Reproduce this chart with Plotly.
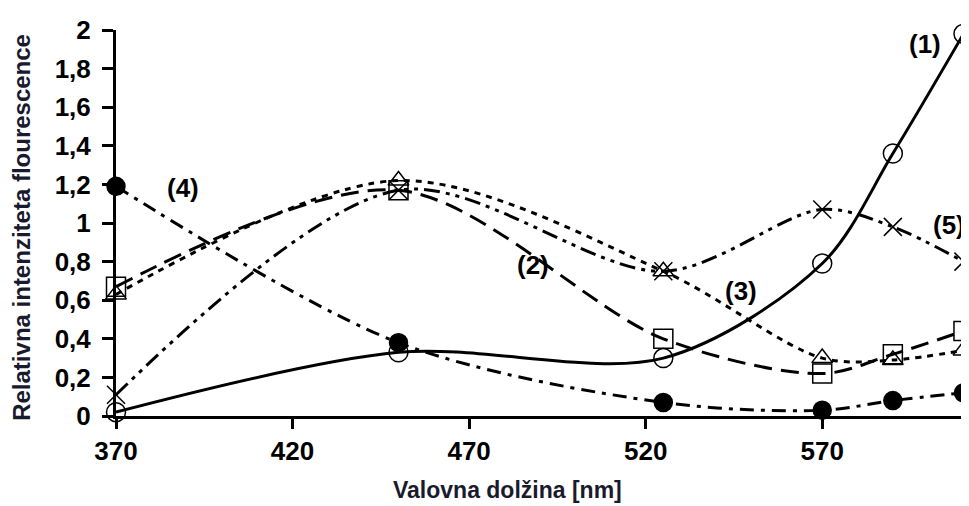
import plotly.graph_objects as go

wavelength = [370, 450, 525, 570, 590, 610]
s1 = [0.02, 0.33, 0.30, 0.79, 1.36, 1.98]
s2 = [0.67, 1.17, 0.40, 0.22, 0.32, 0.44]
s3 = [0.63, 1.22, 0.75, 0.30, 0.29, 0.34]
s4 = [1.19, 0.38, 0.07, 0.03, 0.08, 0.12]
s5 = [0.11, 1.17, 0.75, 1.07, 0.98, 0.80]

y_ticks = [0, 0.2, 0.4, 0.6, 0.8, 1, 1.2, 1.4, 1.6, 1.8, 2]
y_ticktext = ["0", "0,2", "0,4", "0,6", "0,8", "1", "1,2", "1,4", "1,6", "1,8", "2"]
x_ticks = [370, 420, 470, 520, 570]
x_ticktext = ["370", "420", "470", "520", "570"]

labels = ["(1)", "(2)", "(3)", "(4)", "(5)"]
label_x = [599, 488, 547, 389, 606]
label_y = [1.93, 0.78, 0.65, 1.18, 0.99]

x_title = "Valovna dolžina [nm]"
y_title = "Relativna intenziteta flourescence"

series = [
    (s1, "solid", "circle-open", 19, "black"),
    (s2, "18px,9px", "square-open", 19, "black"),
    (s3, "6px,6px", "triangle-up-open", 18, "black"),
    (s4, "14px,7px,4px,7px", "circle", 18, "black"),
    (s5, "16px,6px,4px,6px,4px,6px", "x-thin-open", 18, "black"),
]

FONT = "Liberation Sans"

fig = go.Figure()
for ys, dash, sym, size, col in series:
    fig.add_trace(go.Scatter(
        x=wavelength, y=ys, mode="lines+markers",
        line=dict(color="black", width=3, dash=dash, shape="spline", smoothing=0.9),
        marker=dict(symbol=sym, size=size, color=col,
                    line=dict(color="black", width=1.5)),
        cliponaxis=False, showlegend=False,
    ))

for t, lx, ly in zip(labels, label_x, label_y):
    fig.add_annotation(x=lx, y=ly, text=t, showarrow=False,
                       font=dict(family=FONT, size=26, color="black", weight="bold"))

# axis titles
fig.add_annotation(xref="paper", yref="paper", x=0.4606, y=-0.192, text=x_title,
                   showarrow=False, xanchor="center", yanchor="middle",
                   font=dict(family=FONT, size=23, weight="bold", color="#1a1a2e"))
fig.add_annotation(xref="paper", yref="paper", x=-0.1105, y=0.49, text=y_title,
                   showarrow=False, textangle=-90, xanchor="center", yanchor="middle",
                   font=dict(family=FONT, size=24, weight="bold", color="#1a1a2e"))

fig.update_layout(
    width=961, height=498,
    margin=dict(l=108, r=2, t=22, b=90),
    plot_bgcolor="white", paper_bgcolor="white",
    font=dict(family=FONT, color="black"),
)
fig.update_xaxes(
    range=[370, 611], tickvals=x_ticks, ticktext=x_ticktext, automargin=False,
    showgrid=False, zeroline=False, showline=True, linecolor="black", linewidth=3,
    ticks="outside", ticklen=10, tickwidth=3, tickcolor="black",
    tickfont=dict(family=FONT, size=26, weight="bold"),
)
fig.update_yaxes(
    range=[0, 2], tickvals=y_ticks, ticktext=y_ticktext, automargin=False,
    showgrid=False, zeroline=False, showline=True, linecolor="black", linewidth=3,
    ticks="outside", ticklen=11, tickwidth=3, tickcolor="black", ticklabelstandoff=6,
    tickfont=dict(family=FONT, size=26, weight="bold"),
)

fig.write_html("out.html")
